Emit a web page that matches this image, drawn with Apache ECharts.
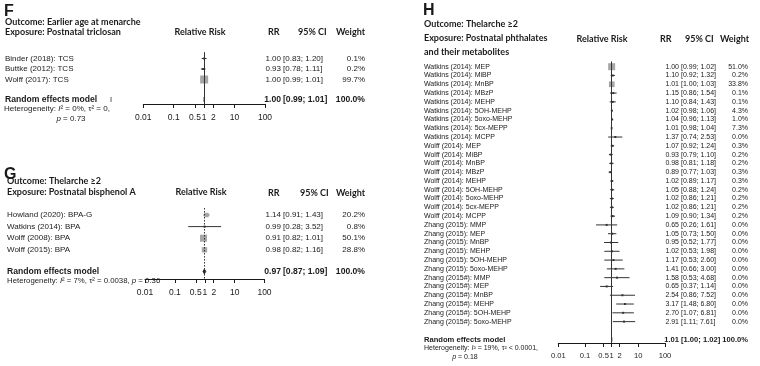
<!DOCTYPE html>
<html><head><meta charset="utf-8">
<script src="https://cdn.jsdelivr.net/npm/echarts@6/dist/echarts.min.js"></script>
<style>html,body{margin:0;padding:0;background:#fff}#c{width:760px;height:366px}</style>
</head><body><div id="c"></div>
<script>
// ---------- data ----------
const tickValues = [0.01, 0.1, 0.5, 1, 2, 10, 100];
const tickLabels = ['0.01', '0.1', '0.5', '1', '2', '10', '100'];

// Panel F: earlier age at menarche, postnatal triclosan
const fLabels = ['Binder (2018): TCS', 'Buttke (2012): TCS', 'Wolff (2017): TCS'];
const fRR = [1.00, 0.93, 1.00];
const fLower = [0.83, 0.78, 0.99];
const fUpper = [1.20, 1.11, 1.01];
const fWeight = [0.1, 0.2, 99.7];
const fPooled = [1.00, 0.99, 1.01, 100.0];

// Panel G: thelarche >=2, postnatal bisphenol A
const gLabels = ['Howland (2020): BPA-G', 'Watkins (2014): BPA', 'Wolff (2008): BPA', 'Wolff (2015): BPA'];
const gRR = [1.14, 0.99, 0.91, 0.98];
const gLower = [0.91, 0.28, 0.82, 0.82];
const gUpper = [1.43, 3.52, 1.01, 1.16];
const gWeight = [20.2, 0.8, 50.1, 28.8];
const gPooled = [0.97, 0.87, 1.09, 100.0];

// Panel H: thelarche >=2, postnatal phthalates and metabolites
const hLabels = [
  'Watkins (2014): MEP', 'Watkins (2014): MiBP', 'Watkins (2014): MnBP', 'Watkins (2014): MBzP',
  'Watkins (2014): MEHP', 'Watkins (2014): 5OH-MEHP', 'Watkins (2014): 5oxo-MEHP', 'Watkins (2014): 5cx-MEPP',
  'Watkins (2014): MCPP', 'Wolff (2014): MEP', 'Wolff (2014): MiBP', 'Wolff (2014): MnBP', 'Wolff (2014): MBzP',
  'Wolff (2014): MEHP', 'Wolff (2014): 5OH-MEHP', 'Wolff (2014): 5oxo-MEHP', 'Wolff (2014): 5cx-MEPP',
  'Wolff (2014): MCPP', 'Zhang (2015): MMP', 'Zhang (2015): MEP', 'Zhang (2015): MnBP', 'Zhang (2015): MEHP',
  'Zhang (2015): 5OH-MEHP', 'Zhang (2015): 5oxo-MEHP', 'Zhang (2015#): MMP', 'Zhang (2015#): MEP',
  'Zhang (2015#): MnBP', 'Zhang (2015#): MEHP', 'Zhang (2015#): 5OH-MEHP', 'Zhang (2015#): 5oxo-MEHP'];
const hRR = [1.00, 1.10, 1.01, 1.15, 1.10, 1.02, 1.04, 1.01, 1.37, 1.07, 0.93, 0.98, 0.89, 1.02, 1.05, 1.02, 1.02, 1.09,
  0.65, 1.05, 0.95, 1.02, 1.17, 1.41, 1.58, 0.65, 2.54, 3.17, 2.70, 2.91];
const hLower = [0.99, 0.92, 1.00, 0.86, 0.84, 0.98, 0.96, 0.98, 0.74, 0.92, 0.79, 0.81, 0.77, 0.89, 0.88, 0.86, 0.86, 0.90,
  0.26, 0.73, 0.52, 0.53, 0.53, 0.66, 0.53, 0.37, 0.86, 1.48, 1.07, 1.11];
const hUpper = [1.02, 1.32, 1.03, 1.54, 1.43, 1.06, 1.13, 1.04, 2.53, 1.24, 1.10, 1.18, 1.03, 1.17, 1.24, 1.21, 1.21, 1.34,
  1.61, 1.50, 1.77, 1.98, 2.60, 3.00, 4.68, 1.14, 7.52, 6.80, 6.81, 7.61];
const hWeight = [51.0, 0.2, 33.8, 0.1, 0.1, 4.3, 1.0, 7.3, 0.0, 0.3, 0.2, 0.2, 0.3, 0.3, 0.2, 0.2, 0.2, 0.2,
  0.0, 0.0, 0.0, 0.0, 0.0, 0.0, 0.0, 0.0, 0.0, 0.0, 0.0, 0.0];
const hPooled = [1.01, 1.00, 1.02, 100.0];

// ---------- layout ----------
const ROWFONT = '"Liberation Sans", Arial, sans-serif';
const HEADFONT = 'Lato, "Open Sans", sans-serif';
const INK = '#1a1a1a';

const panels = [
  { labels: fLabels, rr: fRR, lo: fLower, hi: fUpper, w: fWeight, pooled: fPooled,
    axisL: 143.3, axisR: 265, row0: 58.5, rowH: 10.5, pooledY: 99.5, axisY: 104,
    labelX: 5, rrR: 281, ciL: 283, wR: 365, fs: 8, bfs: 8.6, tfs: 8.5, maxSq: 8, dH: 2.5,
    nullLine: true, pooledLine: false },
  { labels: gLabels, rr: gRR, lo: gLower, hi: gUpper, w: gWeight, pooled: gPooled,
    axisL: 145, axisR: 264.5, row0: 215, rowH: 11.6, pooledY: 271.5, axisY: 279,
    labelX: 7, rrR: 281, ciL: 283, wR: 365, fs: 8, bfs: 8.6, tfs: 8.5, maxSq: 7, dH: 2.5,
    nullLine: false, pooledLine: true },
  { labels: hLabels, rr: hRR, lo: hLower, hi: hUpper, w: hWeight, pooled: hPooled,
    axisL: 558.3, axisR: 665, row0: 66.7, rowH: 8.79, pooledY: 339.5, axisY: 343,
    labelX: 424, rrR: 679, ciL: 681, wR: 748, fs: 7, bfs: 7.6, tfs: 7.6, maxSq: 7, dH: 2,
    nullLine: true, pooledLine: false }
];

const grids = [], xAxes = [], yAxes = [], series = [];

function fmtTick(v) {
  let best = 0;
  tickValues.forEach((t, i) => { if (Math.abs(Math.log10(t) - Math.log10(v)) < Math.abs(Math.log10(tickValues[best]) - Math.log10(v))) best = i; });
  return tickLabels[best];
}

panels.forEach((L, k) => {
  const top = L.row0 - 0.6 * L.rowH;
  grids.push({ left: L.axisL, width: L.axisR - L.axisL, top: top, height: L.axisY - top });
  xAxes.push({
    type: 'log', logBase: 10, min: 0.01, max: 100, gridIndex: k, position: 'bottom',
    axisLine: { show: true, onZero: false, lineStyle: { color: INK, width: 1 } },
    axisTick: { show: true, customValues: tickValues, length: 4, inside: false, lineStyle: { color: INK, width: 1 } },
    axisLabel: { show: true, customValues: tickValues, margin: 9, fontSize: L.tfs, fontFamily: ROWFONT, color: INK, formatter: fmtTick },
    splitLine: { show: false }, minorTick: { show: false }
  });
  const maxRow = (L.axisY - L.row0) / L.rowH;
  yAxes.push({ type: 'value', gridIndex: k, inverse: true, min: -0.6, max: maxRow, show: false });

  const pIdx = (L.pooledY - L.row0) / L.rowH;
  const data = L.rr.map((v, i) => [v, i, L.lo[i], L.hi[i], L.w[i], 0]);
  data.push([L.pooled[0], pIdx, L.pooled[1], L.pooled[2], L.pooled[3], 1]);
  const wMax = Math.max.apply(null, L.w);

  const mlData = [];
  if (L.nullLine) mlData.push({ xAxis: 1, lineStyle: { type: 'solid', color: '#333', width: 1 } });
  if (L.pooledLine) mlData.push({ xAxis: L.pooled[0], lineStyle: { type: [1.5, 1.5], color: '#333', width: 1 } });

  series.push({
    type: 'custom', xAxisIndex: k, yAxisIndex: k, clip: false, data: data,
    encode: { x: 0, y: 1 },
    markLine: { symbol: 'none', silent: true, label: { show: false }, data: mlData, animation: false },
    renderItem: function (params, api) {
      const rr = api.value(0), row = api.value(1), lo = api.value(2), hi = api.value(3), w = api.value(4), isP = api.value(5);
      const c = api.coord([rr, row]);
      const xc = c[0], y = c[1];
      const xl = api.coord([lo, row])[0], xh = api.coord([hi, row])[0];
      const ch = [];
      if (isP) {
        ch.push({ type: 'polygon', shape: { points: [[xl, y], [xc, y - L.dH], [xh, y], [xc, y + L.dH]] },
          style: { fill: '#111', stroke: '#111', lineWidth: 0.6 } });
      } else {
        ch.push({ type: 'line', shape: { x1: xl, y1: y, x2: xh, y2: y }, style: { stroke: '#333', lineWidth: 1 } });
        const s = L.maxSq * Math.sqrt(w / wMax);
        if (s >= 2.5) {
          ch.push({ type: 'rect', shape: { x: xc - s / 2, y: y - s / 2, width: s, height: s }, style: { fill: '#a6a6a6' } });
        } else {
          ch.push({ type: 'rect', shape: { x: xc - 1, y: y - 1, width: 2, height: 2 }, style: { fill: '#333' } });
        }
      }
      const font = (isP ? 'bold ' + L.bfs : 'normal ' + L.fs) + 'px ' + ROWFONT;
      const label = isP ? 'Random effects model' : L.labels[params.dataIndex];
      const t = (txt, x, align) => ({ type: 'text', style: { text: txt, x: x, y: y, font: font, fill: INK, align: align, verticalAlign: 'middle' } });
      ch.push(t(label, L.labelX, 'left'));
      ch.push(t(rr.toFixed(2), L.rrR, 'right'));
      ch.push(t('[' + lo.toFixed(2) + '; ' + hi.toFixed(2) + ']', L.ciL, 'left'));
      ch.push(t(w.toFixed(1) + '%', L.wR, 'right'));
      return { type: 'group', children: ch };
    }
  });
});

// ---------- headers and notes ----------
function txt(x, y, text, size, weight, family, align, rich) {
  const st = { text: text, font: weight + ' ' + size + 'px ' + family, fill: INK, align: align || 'left', verticalAlign: 'middle' };
  if (rich) st.rich = rich;
  return { type: 'text', x: x, y: y, silent: true, style: st };
}
const it = (s) => ({ i: { fontStyle: 'italic', fontSize: s, fontFamily: ROWFONT, fill: INK } });
const H = 9, HB = 'bold';
const graphics = [
  // panel F
  txt(4, 12, 'F', 16, 'bold', ROWFONT),
  txt(5, 22.5, 'Outcome: Earlier age at menarche', H, HB, HEADFONT),
  txt(5, 32.5, 'Exposure: Postnatal triclosan', H, HB, HEADFONT),
  txt(200, 32.5, 'Relative Risk', H, HB, HEADFONT, 'center'),
  txt(268, 32.5, 'RR', H, HB, HEADFONT),
  txt(298, 32.5, '95% CI', H, HB, HEADFONT),
  txt(365, 32.5, 'Weight', H, HB, HEADFONT, 'right'),
  txt(110, 99.5, 'I', 7.5, 'normal', ROWFONT),
  txt(4, 109, 'Heterogeneity: {i|I}² = 0%, τ² = 0,', 8, 'normal', ROWFONT, 'left', it(8)),
  txt(71, 119, '{i|p} = 0.73', 8, 'normal', ROWFONT, 'center', it(8)),
  // panel G
  txt(4, 175, 'G', 16, 'bold', ROWFONT),
  txt(7, 181, 'Outcome: Thelarche ≥2', H, HB, HEADFONT),
  txt(7, 192.5, 'Exposure: Postnatal bisphenol A', H, HB, HEADFONT),
  txt(201, 192, 'Relative Risk', H, HB, HEADFONT, 'center'),
  txt(268, 193, 'RR', H, HB, HEADFONT),
  txt(300, 193, '95% CI', H, HB, HEADFONT),
  txt(365, 193, 'Weight', H, HB, HEADFONT, 'right'),
  txt(7, 281, 'Heterogeneity: {i|I}² = 7%, τ² = 0.0038, {i|p} = 0.36', 7.8, 'normal', ROWFONT, 'left', it(7.8)),
  // panel H
  txt(423, 10.5, 'H', 16, 'bold', ROWFONT),
  txt(424, 24, 'Outcome: Thelarche ≥2', H, HB, HEADFONT),
  txt(424, 38.5, 'Exposure: Postnatal phthalates', H, HB, HEADFONT),
  txt(424, 52, 'and their metabolites', H, HB, HEADFONT),
  txt(602, 39, 'Relative Risk', H, HB, HEADFONT, 'center'),
  txt(660, 39, 'RR', H, HB, HEADFONT),
  txt(685, 39, '95% CI', H, HB, HEADFONT),
  txt(749, 39, 'Weight', H, HB, HEADFONT, 'right'),
  txt(424, 348.5, 'Heterogeneity: {i|I}² = 19%, τ² < 0.0001,', 7, 'normal', ROWFONT, 'left', it(7)),
  txt(465, 357.5, '{i|p} = 0.18', 7, 'normal', ROWFONT, 'center', it(7))
];

const chart = echarts.init(document.getElementById('c'), null, { renderer: 'canvas', width: 760, height: 366 });
chart.setOption({
  animation: false,
  backgroundColor: '#ffffff',
  grid: grids, xAxis: xAxes, yAxis: yAxes, series: series,
  graphic: graphics
});
</script></body></html>
